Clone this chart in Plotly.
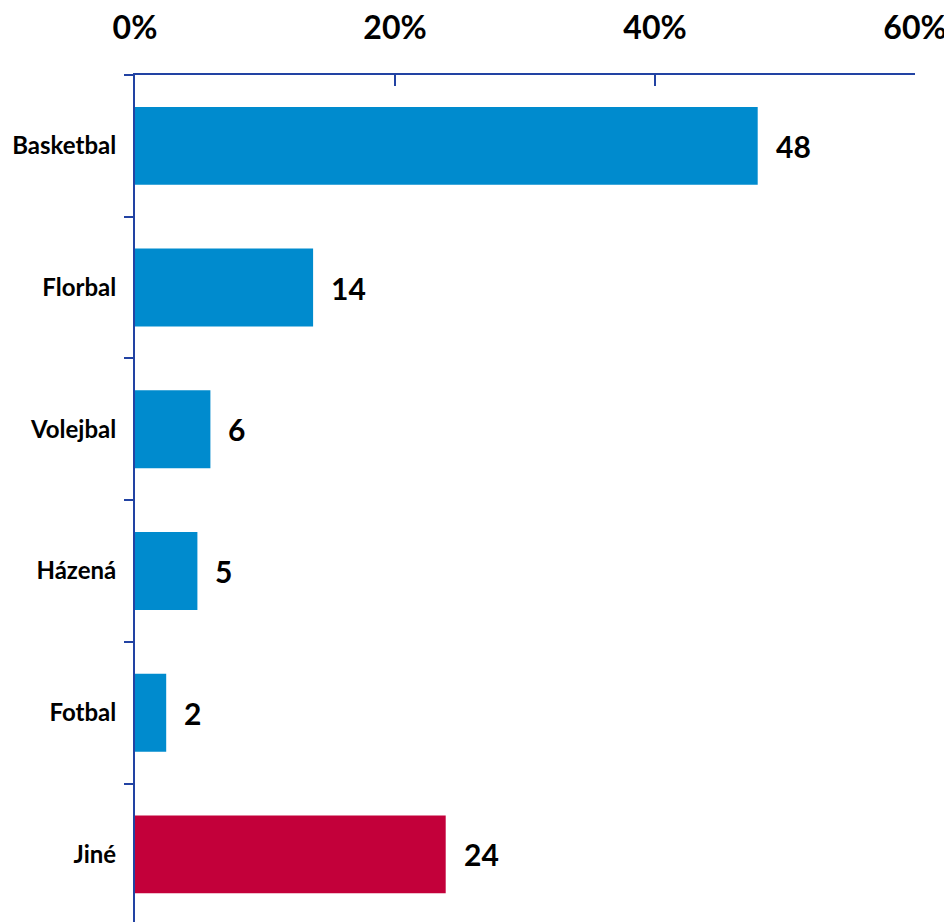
import plotly.graph_objects as go

categories = ["Basketbal", "Florbal", "Volejbal", "Házená", "Fotbal", "Jiné"]
values = [47.9, 13.7, 5.8, 4.8, 2.4, 23.9]
labels = ["48", "14", "6", "5", "2", "24"]
bar_colors = ["#008BCE", "#008BCE", "#008BCE", "#008BCE", "#008BCE", "#C3003A"]
tick_vals = [0, 20, 40, 60]
tick_text = ["0%", "20%", "40%", "60%"]

axis_color = "#2243A3"
font_family = "Lato"

fig = go.Figure()
fig.add_trace(go.Bar(
    x=values,
    y=categories,
    orientation="h",
    marker=dict(color=bar_colors, line=dict(width=0)),
    hoverinfo="skip",
))

for c, v, t in zip(categories, values, labels):
    fig.add_annotation(
        x=v, y=c, text=t, showarrow=False,
        xanchor="left", yanchor="middle", xshift=16,
        font=dict(family=font_family, size=30, color="black", weight="bold"),
    )

fig.update_layout(
    width=944, height=914,
    margin=dict(l=127, r=37, t=67, b=0, autoexpand=False),
    paper_bgcolor="white", plot_bgcolor="white",
    showlegend=False,
    bargap=0.45,
    font=dict(family=font_family, color="black"),
    xaxis=dict(
        side="top", range=[0, 60],
        tickvals=tick_vals, ticktext=tick_text,
        ticks="inside", ticklen=11, tickwidth=2, tickcolor=axis_color,
        showline=True, linecolor=axis_color, linewidth=2,
        showgrid=False, zeroline=False, automargin=False,
        tickfont=dict(family=font_family, size=32, color="black", weight="bold"),
        ticklabelstandoff=21,
    ),
    yaxis=dict(
        type="category",
        categoryorder="array", categoryarray=categories,
        range=[5.477, -0.5],
        ticks="outside", ticklen=9, tickwidth=2, tickcolor=axis_color,
        tickson="boundaries",
        showline=True, linecolor=axis_color, linewidth=2,
        showgrid=False, zeroline=False, automargin=False,
        tickfont=dict(family=font_family, size=24, color="black", weight="bold"),
        ticklabelstandoff=12,
    ),
)

fig.write_html("out.html")
